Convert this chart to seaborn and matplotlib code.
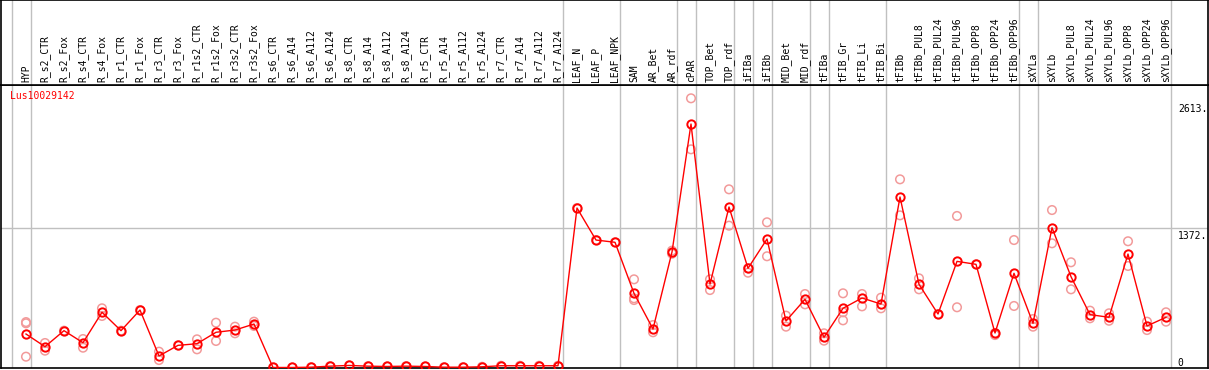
import numpy as np
import pandas as pd
import matplotlib
matplotlib.use("Agg")
import matplotlib.pyplot as plt
import seaborn as sns

# sample names (in plot order)
samples = ["HYP",
           "R_s2_CTR", "R_s2_Fox", "R_s4_CTR", "R_s4_Fox", "R_r1_CTR", "R_r1_Fox",
           "R_r3_CTR", "R_r3_Fox", "R_r1s2_CTR", "R_r1s2_Fox", "R_r3s2_CTR", "R_r3s2_Fox",
           "R_s6_CTR", "R_s6_A14", "R_s6_A112", "R_s6_A124",
           "R_s8_CTR", "R_s8_A14", "R_s8_A112", "R_s8_A124",
           "R_r5_CTR", "R_r5_A14", "R_r5_A112", "R_r5_A124",
           "R_r7_CTR", "R_r7_A14", "R_r7_A112", "R_r7_A124",
           "LEAF_N", "LEAF_P", "LEAF_NPK",
           "SAM", "AR_Bet", "AR_rdf",
           "cPAR",
           "TOP_Bet", "TOP_rdf",
           "iFIBa", "iFIBb",
           "MID_Bet", "MID_rdf",
           "tFIBa",
           "tFIB_Gr", "tFIB_Li", "tFIB_Bi",
           "tFIBb", "tFIBb_PUL8", "tFIBb_PUL24", "tFIBb_PUL96",
           "tFIBb_OPP8", "tFIBb_OPP24", "tFIBb_OPP96",
           "sXYLa",
           "sXYLb", "sXYLb_PUL8", "sXYLb_PUL24", "sXYLb_PUL96",
           "sXYLb_OPP8", "sXYLb_OPP24", "sXYLb_OPP96"]

# mean expression per sample
means = [333,
         209, 366, 248, 546, 366, 568, 118, 222, 238, 350, 372, 431,
         5, 5, 8, 18, 25, 18, 15, 18, 15, 8, 8, 12, 22, 22, 22, 22,
         1568, 1254, 1232,
         732, 382, 1137,
         2391,
         823, 1578,
         977, 1264,
         461, 673,
         301,
         585, 686, 627,
         1676, 820, 529, 1045, 1016, 343, 928,
         438,
         1375, 895, 523, 497, 1117, 412, 497]

# replicate values per sample
reps = [[438, 111, 450],
        [245, 170], [366], [284, 199], [585, 510], [366], [568],
        [160, 78], [222], [281, 183], [444, 265], [405, 340], [454, 412],
        [5], [5], [8], [18], [25], [18], [15], [18], [15], [8], [8], [12],
        [22], [22], [22], [22],
        [1568], [1254], [1232],
        [869, 683, 666], [421, 350], [1150, 1120],
        [2643, 2143],
        [869, 764], [1751, 1395],
        [934, 977], [1428, 1095],
        [513, 405], [725, 624],
        [340, 268],
        [732, 546, 467], [725, 604], [689, 585],
        [1849, 1496], [879, 771], [529], [1490, 595], [1016], [323, 343], [1254, 608],
        [480, 405],
        [1548, 1222], [1036, 771], [562, 487], [536, 463], [1242, 1000], [454, 372], [546, 454]]

# last sample of each group (grey separators)
group_ends = ["HYP", "R_r7_A124", "LEAF_NPK", "AR_rdf", "cPAR", "TOP_rdf", "iFIBa",
              "iFIBb", "MID_rdf", "tFIBa", "tFIB_Bi", "tFIBb_OPP96", "sXYLa", "sXYLb_OPP96"]

gene = "Lus10029142"
y_ticks = [2613, 1372, 0]

mean_df = pd.DataFrame({"pos": np.arange(len(samples)), "value": means})
rep_rows = [(i, v) for i, r in enumerate(reps) for v in r]
rep_df = pd.DataFrame(rep_rows, columns=["pos", "value"])

W, H = 1209, 370
fig = plt.figure(figsize=(W / 100, H / 100), dpi=100)
ax = fig.add_axes([1 / W, 2 / H, 1207 / W, 283 / H])
ax_top = fig.add_axes([1 / W, 285 / H, 1207 / W, 85 / H], sharex=ax)

mono = "DejaVu Sans Mono"
xl = -25 / 19
ax.set_xlim(xl, xl + 1207 / 19)
ax.set_ylim(0, 283 * 1372 / 140)

# separators
seps = [-0.75] + [samples.index(g) + 0.25 for g in group_ends]
for s in seps:
    ax.axvline(s, color="#c0c0c0", lw=1, zorder=0)
    ax_top.axvline(s, color="#c0c0c0", lw=1, zorder=0)
ax.axhline(1372, color="#c0c0c0", lw=1, zorder=0)

sns.scatterplot(data=rep_df, x="pos", y="value", ax=ax, marker="o",
                facecolor="none", edgecolor="#f29a9a", linewidth=1.1, s=38, zorder=2, legend=False)
sns.lineplot(data=mean_df, x="pos", y="value", ax=ax, color="red", lw=1, zorder=3,
             marker="o", markersize=6, markerfacecolor="none", markeredgecolor="red",
             markeredgewidth=1.4)

ax.set_xlabel("")
ax.set_ylabel("")
ax.set_xticks([])
ax.set_yticks([])
for sp in ax.spines.values():
    sp.set_color("black")
    sp.set_linewidth(1.2)

# right-hand value labels
for v in y_ticks:
    if v == 0:
        ax.text(0.975, v, "0", transform=ax.get_yaxis_transform(), ha="left", va="bottom",
                fontsize=7, family=mono)
    else:
        ax.text(0.975, v - 30, f"{v}.", transform=ax.get_yaxis_transform(), ha="left", va="top",
                fontsize=7, family=mono)

ax.text(0.0075, 0.96, gene, transform=ax.transAxes, color="red", fontsize=7, family=mono,
        ha="left", va="center")

# sample labels
ax_top.set_ylim(0, 1)
for i, name in enumerate(samples):
    ax_top.text(i, 3 / 85, name, rotation=90, ha="center", va="bottom", fontsize=7, family=mono)
ax_top.set_xticks([])
ax_top.set_yticks([])
for sp in ax_top.spines.values():
    sp.set_color("black")
    sp.set_linewidth(1.2)

fig.savefig("out.png", dpi=100)
